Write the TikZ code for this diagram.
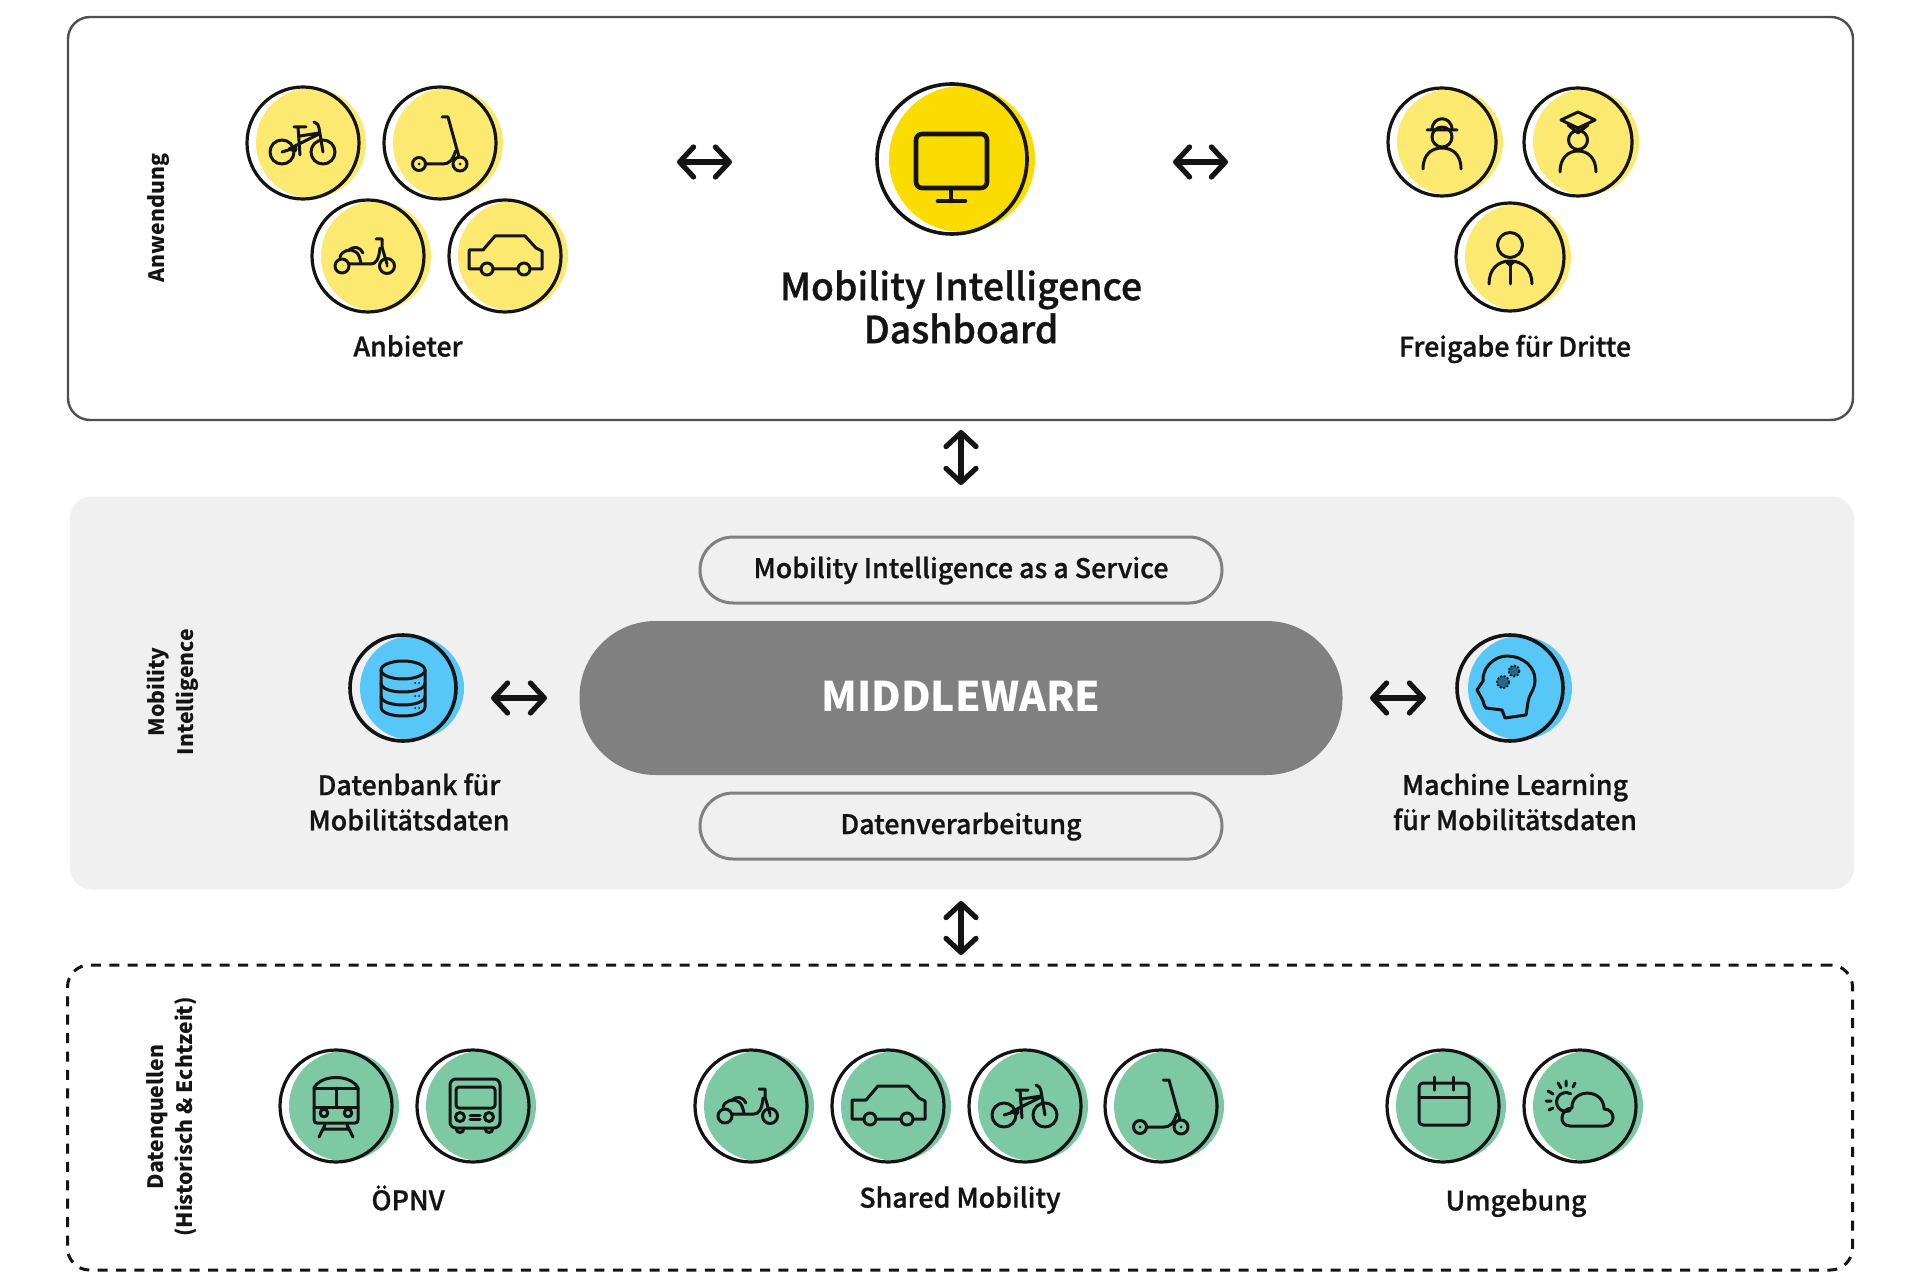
\documentclass[tikz,border=0pt]{standalone}
\usepackage{fontspec}
\usetikzlibrary{arrows.meta}
\setmainfont{Noto Sans CJK JP Medium}[FakeBold=0.9]
\newfontfamily\heavy{Noto Sans CJK JP}
\definecolor{ink}{HTML}{141414}
\definecolor{paleY}{HTML}{FCE96F}
\definecolor{deepY}{HTML}{FADC00}
\definecolor{skyB}{HTML}{56C7F7}
\definecolor{mint}{HTML}{7DC9A3}
\definecolor{panelG}{HTML}{F0F0F0}
\definecolor{pillG}{HTML}{808080}
\definecolor{gearC}{HTML}{1F6A8C}
\tikzset{
  x=0.5pt,y=-0.5pt,
  ic/.style={draw=ink,line width=1.5pt,line cap=round,line join=round},
  ringn/.style={circle,draw=ink,line width=1.6pt,inner sep=0pt,fill=none},
  lab/.style={font=\fontsize{13.4}{17.6}\selectfont,text=ink,align=center,inner sep=0pt},
  side/.style={font=\heavy\bfseries\fontsize{10.6}{14.5}\selectfont,text=ink,align=center,inner sep=0pt,rotate=90},
  pill/.style={draw=pillG,line width=1.5pt,fill=panelG,rounded corners=16.5pt,minimum width=261pt,minimum height=33pt,inner sep=0pt,font=\fontsize{13.4}{16}\selectfont,text=ink},
  dbl/.style={draw=ink,line width=2.6pt,line cap=round,{Straight Barb[length=7pt,width=15pt,round,line width=2.6pt]}-{Straight Barb[length=7pt,width=15pt,round,line width=2.6pt]}},
  icBike/.pic={
    \draw[ic] (-21,9) circle (12) (20,9) circle (12);
    \draw[ic] (-9,-16)--(3,-16) (-5,-16)--(-3,12) (-3,-7)--(16,-10) (-14,6)--(16,-9) (-21,9)--(-8,5);
    \draw[ic] (11,-21) .. controls (14,-20) and (16,-18) .. (16,-15) -- (20,9);
    \fill[ink] (-9,6) circle (3.5);
  },
  icScoot/.pic={
    \draw[ic] (-21,21) circle (6.5) (20,21) circle (7);
    \fill[ink] (-21,21) circle (1.5) (20,21) circle (1.5);
    \draw[ic] (2,-26)--(8,-26)--(19,14);
    \draw[ic] (-15,21)--(3,21) .. controls (9,21) and (13,17) .. (15.5,8);
  },
  icMoped/.pic={
    \draw[ic] (-26,10) circle (7) (19,10) circle (7.5);
    \fill[ink] (19,10) circle (1.5);
    \draw[ic] (-19,8)--(3,8) .. controls (8,8) and (11,3) .. (12,-8);
    \draw[ic] (8,-17)--(14,-17)--(14,-9)--(19,8);
    \draw[ic] (-28,1) .. controls (-26,-6) and (-17,-8) .. (-12,-4) .. controls (-9,-2) and (-8,3) .. (-7,7);
    \draw[ic] (-20,-5) .. controls (-14,-11) and (-8,-9) .. (-5,-3);
  },
  icCar/.pic={
    \draw[ic] (-24,13)--(-36,13)--(-36,-6)--(-22,-6)--(-10,-20)--(20,-20)--(31,-8)--(37,-5)--(37,13)--(25,13) (-12,13)--(13,13);
    \draw[ic] (-18,13) circle (6) (19,13) circle (6);
  },
  icMon/.pic={
    \draw[ink,line width=2.3pt,rounded corners=3pt,line join=round] (-36,-25) rectangle (35,29);
    \draw[ink,line width=2.3pt,line cap=round] (-1,29)--(-1,42) (-14,42)--(13,42);
  },
  icHat/.pic={
    \draw[ic] (0,-5) circle (10);
    \draw[ic] (-15,-12)--(15,-12) (-10,-12) .. controls (-10,-27) and (10,-27) .. (10,-12);
    \draw[ic] (-19,27) .. controls (-19,12) and (-10,6) .. (0,6) .. controls (10,6) and (19,12) .. (19,27);
  },
  icCop/.pic={
    \draw[ic] (0,-2) circle (9.5);
    \draw[ic] (-17,-22)--(0,-30)--(17,-22)--(0,-14)--cycle (-10,-17)--(0,-9)--(10,-17);
    \draw[ic] (-18,30) .. controls (-18,16) and (-10,9) .. (0,9) .. controls (10,9) and (18,16) .. (18,30);
  },
  icTie/.pic={
    \draw[ic] (0,-12) circle (12.5);
    \draw[ic] (-21,27) .. controls (-21,12) and (-12,4) .. (0,4) .. controls (12,4) and (22,12) .. (22,27);
    \draw[ic] (0,5)--(0,27);
    \fill[ink] (-7,4)--(7,4)--(0,10)--cycle;
  },
  icDB/.pic={
    \draw[ic] (0,-18) ellipse (22 and 9);
    \draw[ic] (-22,-18)--(-22,19) .. controls (-22,31) and (22,31) .. (22,19)--(22,-18);
    \draw[ic] (-22,-5) .. controls (-22,7) and (22,7) .. (22,-5);
    \draw[ic] (-22,8) .. controls (-22,20) and (22,20) .. (22,8);
    \fill[ink] (12,-5) circle (1) (16,-5) circle (1) (12,8) circle (1) (16,8) circle (1) (12,20) circle (1) (16,20) circle (1);
  },
  icHead/.pic={
    \draw[ic] (-24,20) .. controls (-27,17) and (-26,13) .. (-29,9) -- (-33,2) -- (-27,-7) .. controls (-28,-20) and (-16,-32) .. (-3,-32) .. controls (12,-32) and (25,-22) .. (25,-8) .. controls (25,2) and (18,8) .. (18,14) -- (16,27) -- (-5,30) -- (-8,22) -- cycle;
    \draw[draw=ink,fill=gearC,line width=.9pt,dash pattern=on 1pt off .8pt] (-7,-6) circle (6) (4,-17) circle (5.5);
  },
  icTrain/.pic={
    \draw[ic] (-22,-18) .. controls (-15,-32) and (15,-32) .. (22,-18) -- (22,14) .. controls (22,16) and (21,17) .. (19,17) -- (-19,17) .. controls (-21,17) and (-22,16) .. (-22,14) -- cycle;
    \draw[ic] (-22,-18)--(22,-18) (-22,1)--(22,1) (0,-18)--(0,0);
    \draw[ic] (-12,7) circle (3.8) (12,7) circle (3.8);
    \draw[ic] (-11,19)--(-17,31) (11,19)--(17,31) (-13,23)--(13,23);
  },
  icBus/.pic={
    \draw[ic,rounded corners=3pt] (-23,-27) rectangle (27,22);
    \draw[ic,rounded corners=1.5pt] (-17,-19) rectangle (22,2);
    \draw[ic] (-13,11) circle (4.5) (16,11) circle (4.5);
    \draw[ic] (-3,9.5)--(7,9.5) (-3,13.5)--(7,13.5);
    \draw[ic] (-17,22) .. controls (-17,28) and (-9,28) .. (-9,22) (12,22) .. controls (12,28) and (20,28) .. (20,22);
  },
  icCal/.pic={
    \draw[ic,rounded corners=2pt] (-24,-23) rectangle (26,19);
    \draw[ic] (-24,-9)--(26,-9) (-9,-29)--(-9,-16) (10,-29)--(10,-16);
  },
  icSun/.pic={
    \draw[ic] (-14,-4) ++(300:9.5) arc[start angle=300,end angle=65,radius=9.5];
    \draw[ic] (-10,20) -- (24,20) .. controls (36,20) and (36,3) .. (24,3) .. controls (24,-18) and (-9,-18) .. (-8,2) .. controls (-20,2) and (-22,20) .. (-10,20);
    \draw[ic] (-34,-5)--(-29,-5) (-32,-15)--(-27,-12) (-22,-23)--(-19,-18) (-14,-25)--(-14,-20) (-5,-23)--(-7,-19) (-31,4)--(-27,2);
  },
}
% name, x, y, radius, fill colour, icon
\newcommand\badge[6]{%
  \fill[#5] (#2+8,#3) circle (#4-1);
  \node[ringn,minimum size=#4pt] (#1) at (#2,#3) {};
  \pic at (#1.center) {#6};
}
\begin{document}
\begin{tikzpicture}
\useasboundingbox (0,0) rectangle (1920,1288);
\fill[white] (0,0) rectangle (1920,1288);
% panels
\node[draw=ink!75,line width=1.2pt,rounded corners=11pt,minimum width=892.5pt,minimum height=201.5pt,inner sep=0pt] (pTop) at (960.5,218.5) {};
\node[fill=panelG,rounded corners=11pt,minimum width=892pt,minimum height=196.5pt,inner sep=0pt] (pMid) at (962,693) {};
\node[draw=ink,line width=1.5pt,dash pattern=on 5pt off 4.2pt,rounded corners=11pt,minimum width=892.5pt,minimum height=152.5pt,inner sep=0pt] (pBot) at (960,1117.5) {};
% side labels
\node[side] (sA) at (159,218) {Anwendung};
\node[side] (sM) at (173,692) {Mobility\\Intelligence};
\node[side] (sD) at (172,1117) {Datenquellen\\(Historisch \& Echtzeit)};
% top row
\badge{bike}{303}{143}{56}{paleY}{icBike}
\badge{scoot}{440}{143}{56}{paleY}{icScoot}
\badge{moped}{368}{256}{56}{paleY}{icMoped}
\badge{car}{505}{256}{56}{paleY}{icCar}
\fill[deepY] (962,159) circle (73);
\node[ringn,line width=1.8pt,minimum size=75pt] (mon) at (952,159) {};
\pic at (mon.center) {icMon};
\badge{hat}{1442}{142}{54}{paleY}{icHat}
\badge{cop}{1578}{142}{54}{paleY}{icCop}
\badge{tie}{1510}{257}{54}{paleY}{icTie}
\node[lab] (lAnb) at (408,346) {Anbieter};
\node[lab,font=\fontsize{18.7}{21.5}\selectfont] (lDash) at (961,307) {Mobility Intelligence\\Dashboard};
\node[lab] (lFrei) at (1515,349) {Freigabe für Dritte};
% middle row
\node[pill] (svc) at (961,570) {\raisebox{-4pt}[0pt][0pt]{Mobility Intelligence as a Service}};
\node[fill=pillG,rounded corners=38pt,minimum width=381.5pt,minimum height=77pt,inner sep=0pt,text=white,font=\heavy\bfseries\fontsize{20.4}{24}\selectfont] (mw) at (961,698) {\raisebox{-6.5pt}[0pt][0pt]{MIDDLEWARE}};
\node[pill] (proc) at (961,826) {\raisebox{-4pt}[0pt][0pt]{Datenverarbeitung}};
\fill[skyB] (412,688) circle (52);
\node[ringn,line width=1.8pt,minimum size=53pt] (db) at (403,688) {};
\pic at (db.center) {icDB};
\fill[skyB] (1520,688) circle (52);
\node[ringn,line width=1.8pt,minimum size=53pt] (ml) at (1510,688) {};
\pic at (ml.center) {icHead};
\node[lab] (lDB) at (409,802) {Datenbank für\\Mobilitätsdaten};
\node[lab] (lML) at (1515,802) {Machine Learning\\für Mobilitätsdaten};
% bottom row
\badge{train}{336}{1106}{56}{mint}{icTrain}
\badge{bus}{473}{1106}{56}{mint}{icBus}
\badge{gmoped}{751}{1106}{56}{mint}{icMoped}
\badge{gcar}{888}{1106}{56}{mint}{icCar}
\badge{gbike}{1025}{1106}{56}{mint}{icBike}
\badge{gscoot}{1161}{1106}{56}{mint}{icScoot}
\badge{cal}{1443}{1106}{56}{mint}{icCal}
\badge{sun}{1580}{1106}{56}{mint}{icSun}
\node[lab] (lOe) at (408,1198) {ÖPNV};
\node[lab] (lSh) at (960,1200) {Shared Mobility};
\node[lab] (lUm) at (1516,1203) {Umgebung};
% connectors
\coordinate (a1) at (677,162); \coordinate (a2) at (732,162);
\coordinate (b1) at (1173,162); \coordinate (b2) at (1228,162);
\coordinate (c1) at (961,430); \coordinate (c2) at (961,485);
\coordinate (d1) at (961,901); \coordinate (d2) at (961,955);
\coordinate (e1) at (491,698); \coordinate (e2) at (547,698);
\coordinate (f1) at (1370,698); \coordinate (f2) at (1426,698);
\draw[dbl] (a1) -- (a2);
\draw[dbl] (b1) -- (b2);
\draw[dbl] (c1) -- (c2);
\draw[dbl] (d1) -- (d2);
\draw[dbl] (e1) -- (e2);
\draw[dbl] (f1) -- (f2);
\end{tikzpicture}
\end{document}
